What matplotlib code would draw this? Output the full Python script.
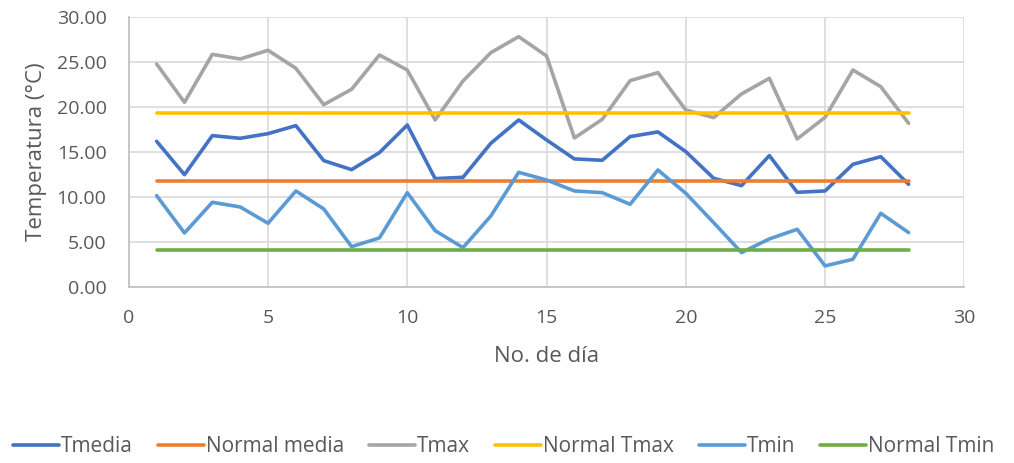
import matplotlib
matplotlib.use("Agg")
import matplotlib.pyplot as plt
from matplotlib.ticker import FormatStrFormatter

days = list(range(1, 29))
tmedia = [16.15, 12.44, 16.78, 16.48, 17.0, 17.89, 14.0, 13.0, 14.89, 17.96,
          12.0, 12.15, 15.93, 18.52, 16.3, 14.19, 14.04, 16.67, 17.19, 15.0,
          12.04, 11.22, 14.56, 10.48, 10.63, 13.59, 14.44, 11.37]
tmax = [24.74, 20.48, 25.81, 25.3, 26.26, 24.26, 20.22, 21.93, 25.74, 24.07,
        18.52, 22.85, 26.0, 27.78, 25.63, 16.52, 18.59, 22.89, 23.78, 19.63,
        18.78, 21.41, 23.15, 16.41, 18.81, 24.07, 22.22, 18.15]
tmin = [10.11, 5.96, 9.37, 8.85, 7.04, 10.63, 8.63, 4.44, 5.41, 10.44,
        6.22, 4.33, 7.85, 12.7, 11.85, 10.63, 10.44, 9.15, 12.96, 10.37,
        7.11, 3.78, 5.3, 6.37, 2.3, 3.04, 8.15, 6.0]
normal_media = 11.70
normal_tmax = 19.33
normal_tmin = 4.07

plt.rcParams['font.family'] = ['Open Sans', 'DejaVu Sans']

fig = plt.figure(figsize=(10.14, 4.63), dpi=100)
ax = fig.add_axes([0.127, 0.381, 0.824, 0.583])

lw = 2.6
ax.plot(days, tmedia, color='#4472C4', lw=lw, label='Tmedia', solid_capstyle='round')
ax.plot(days, [normal_media]*len(days), color='#ED7D31', lw=lw, label='Normal media', solid_capstyle='round')
ax.plot(days, tmax, color='#A5A5A5', lw=lw, label='Tmax', solid_capstyle='round')
ax.plot(days, [normal_tmax]*len(days), color='#FFC000', lw=lw, label='Normal Tmax', solid_capstyle='round')
ax.plot(days, tmin, color='#5B9BD5', lw=lw, label='Tmin', solid_capstyle='round')
ax.plot(days, [normal_tmin]*len(days), color='#70AD47', lw=lw, label='Normal Tmin', solid_capstyle='round')

ax.set_xlim(0, 30)
ax.set_ylim(0, 30)
ax.set_xticks(range(0, 31, 5))
ax.set_yticks(range(0, 31, 5))
ax.yaxis.set_major_formatter(FormatStrFormatter('%.2f'))
ax.grid(True, color='#D9D9D9', lw=1.2)
ax.set_axisbelow(True)
for s in ['top', 'right']:
    ax.spines[s].set_visible(False)
for s in ['left', 'bottom']:
    ax.spines[s].set_color('#BFBFBF')
    ax.spines[s].set_linewidth(1.2)
ax.tick_params(length=0, labelsize=14, colors='#595959')
ax.tick_params(axis='y', pad=16)
ax.tick_params(axis='x', pad=16)
ax.set_xlabel('No. de día', fontsize=16, color='#595959', labelpad=14)
ax.set_ylabel('Temperatura (°C)', fontsize=16, color='#595959', labelpad=7)

fig.legend(loc='center', bbox_to_anchor=(0.497, 0.035), ncol=6, frameon=False,
           fontsize=15, handlelength=2.2, handletextpad=0.1, columnspacing=1.2,
           labelcolor='#595959')

fig.savefig('out.png', dpi=100)
